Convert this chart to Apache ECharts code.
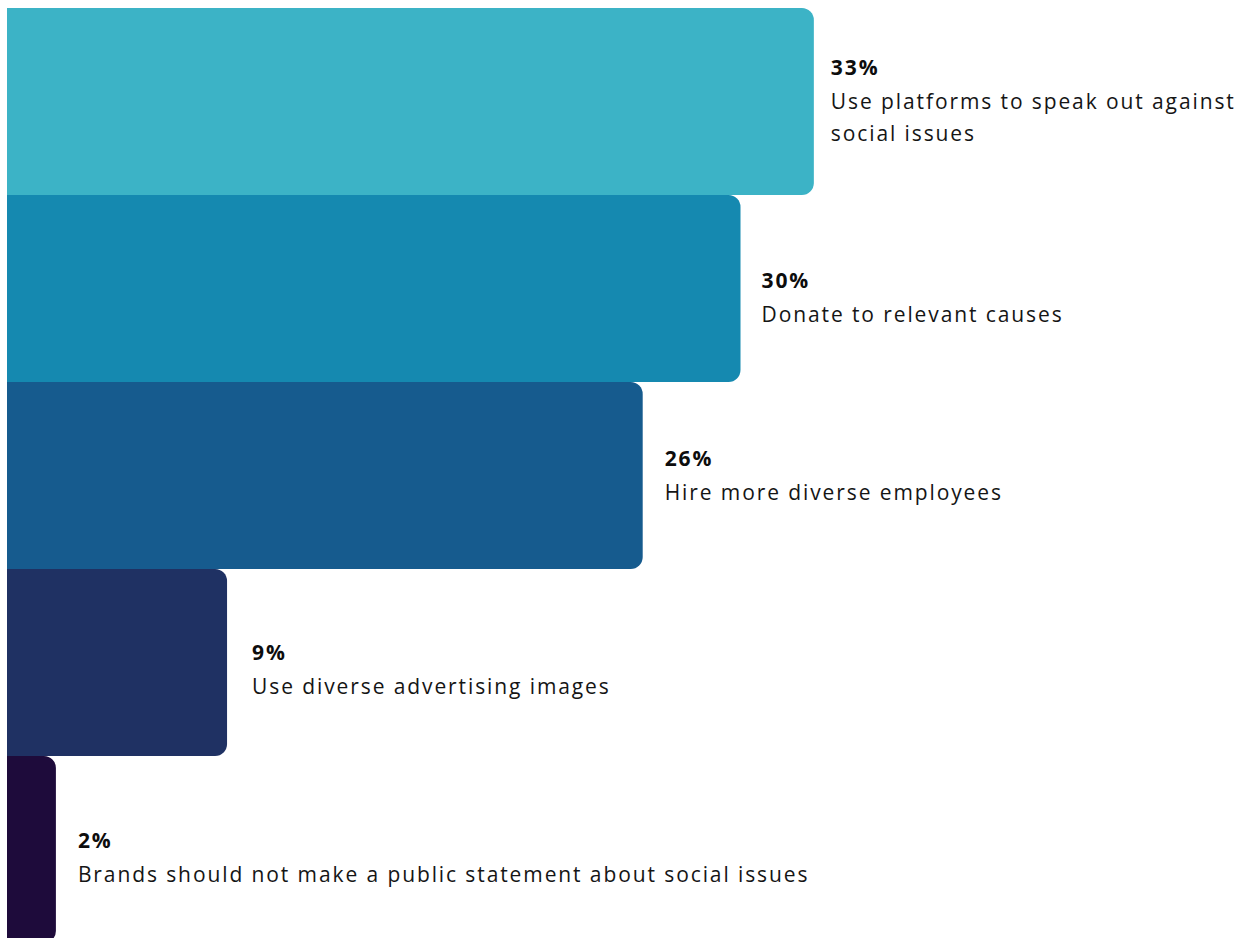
<!DOCTYPE html>
<html>
<head>
<meta charset="utf-8">
<style>
  html, body { margin: 0; padding: 0; background: #ffffff; overflow: hidden; }
  #chart { width: 1248px; height: 938px; }
  /* tracked-out label lettering */
  #chart text { letter-spacing: 1.9px; }
</style>
<script src="https://cdn.jsdelivr.net/npm/echarts@6/dist/echarts.min.js"></script>
</head>
<body>
<div id="chart"></div>
<script>
// Share of respondents for each brand action
const categories = [
  'Use platforms to speak out against\nsocial issues',
  'Donate to relevant causes',
  'Hire more diverse employees',
  'Use diverse advertising images',
  'Brands should not make a public statement about social issues'
];
const values = [33, 30, 26, 9, 2];
const barColors = ['#3cb3c6', '#1589b0', '#165b8e', '#1f3163', '#1e0b3b'];

// small nudges for the label blocks (px)
const labelNudgeX = [0, 4, 5, 8, 5];
const labelNudgeY = [-3, 7, -2, 5, 6];

const chart = echarts.init(document.getElementById('chart'), null, { renderer: 'svg' });

chart.setOption({
  animation: false,
  grid: { left: 7, top: 8, right: 18.5, bottom: -5, outerBoundsMode: 'none' },
  xAxis: {
    type: 'value', min: 0, max: 50,
    show: false
  },
  yAxis: {
    type: 'category', data: categories, inverse: true,
    show: false
  },
  series: [{
    type: 'bar',
    barWidth: '100%',
    barCategoryGap: 0,
    data: values.map((v, i) => ({
      value: v,
      itemStyle: { color: barColors[i], borderRadius: [0, 12, 12, 0] },
      label: { offset: [labelNudgeX[i], labelNudgeY[i]] }
    })),
    label: {
      show: true,
      position: 'right',
      distance: 17,
      align: 'left',
      verticalAlign: 'middle',
      formatter: p => '{p|' + p.value + '%}\n{t|' + categories[p.dataIndex] + '}',
      rich: {
        p: { fontFamily: 'Open Sans', fontWeight: 'bold', fontSize: 21, color: '#0d0d0d', lineHeight: 36 },
        t: { fontFamily: 'Open Sans', fontSize: 21, color: '#151515', lineHeight: 32 }
      }
    }
  }]
});
</script>
</body>
</html>
